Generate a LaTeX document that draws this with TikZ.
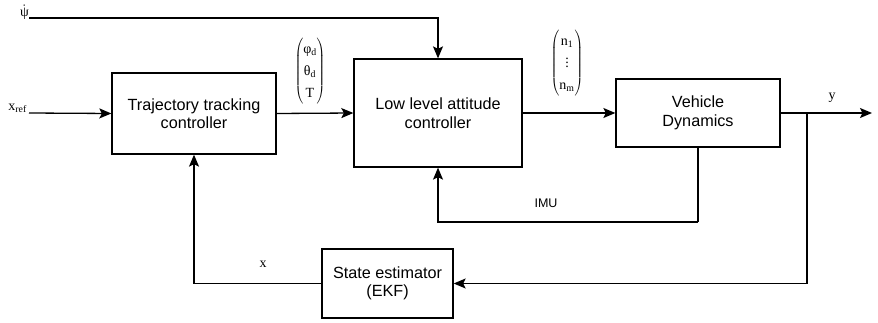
\documentclass[tikz,border=0pt]{standalone}
\usepackage{fontspec}
\setmainfont{Liberation Sans}
\newfontfamily\lblserif{Liberation Serif}
\usetikzlibrary{arrows.meta}
\begin{document}
\begin{tikzpicture}[x={(1pt,0)},y={(0,-1pt)},
  blk/.style={draw,line width=1.3pt,rectangle,inner sep=0pt,align=center,
    font=\fontsize{16.2}{18.5}\selectfont},
  conn/.style={line width=1.3pt},
  arr/.style={line width=1.3pt,-{Stealth[length=12pt,width=10pt,inset=2.5pt]}},
  lab/.style={inner sep=0pt,font=\fontsize{14}{17}\selectfont\lblserif},
  slab/.style={inner sep=0pt,font=\fontsize{12.5}{15}\selectfont}]
\useasboundingbox (0,0) rectangle (878,323);
\node[blk,minimum width=164pt,minimum height=81pt] (traj) at (194,113.5) {Trajectory tracking\\controller};
\node[blk,minimum width=168pt,minimum height=108pt] (low) at (438,113) {Low level attitude\\controller};
\node[blk,minimum width=164pt,minimum height=68pt] (veh) at (698,113) {Vehicle\\Dynamics};
\node[blk,minimum width=131pt,minimum height=69pt] (est) at (387.5,283.5) {State estimator\\(EKF)};
\coordinate (psi) at (29,18);
\coordinate (xin) at (29,113);
\coordinate (out) at (872,113);
\coordinate (br) at (807,113);
\coordinate (imu) at (698,222);
\node[lab,anchor=east] (psil) at (29,12) {$\dot{\mbox{ψ}}$};
\node[lab,anchor=east] (xrefl) at (27,108) {x\textsubscript{ref}};
\node[lab] (v1) at (310,71) {\renewcommand{\arraystretch}{1.3}$\left(\begin{array}{@{}c@{}}\mbox{φ\textsubscript{d}}\\ \mbox{θ\textsubscript{d}}\\ \mbox{T}\end{array}\right)$};
\node[lab] (v2) at (567,63) {\renewcommand{\arraystretch}{1.3}$\left(\begin{array}{@{}c@{}}\mbox{n\textsubscript{1}}\\ \vdots\\ \mbox{n\textsubscript{m}}\end{array}\right)$};
\node[lab] (yl) at (832,98) {y};
\node[slab] (imul) at (546,203) {IMU};
\node[lab] (xl) at (263,264) {x};
\draw[arr] (psi) -| (low.north);
\draw[arr] (xin) -- (traj.west);
\draw[arr] (traj.east) -- (low.west);
\draw[arr] (low.east) -- (veh.west);
\draw[arr] (veh.east) -- (out);
\draw[arr] (br) |- (est.east);
\draw[conn] (veh.south) -- (imu);
\draw[arr] (imu) -| (low.south);
\draw[arr] (est.west) -| (traj.south);
\end{tikzpicture}
\end{document}
